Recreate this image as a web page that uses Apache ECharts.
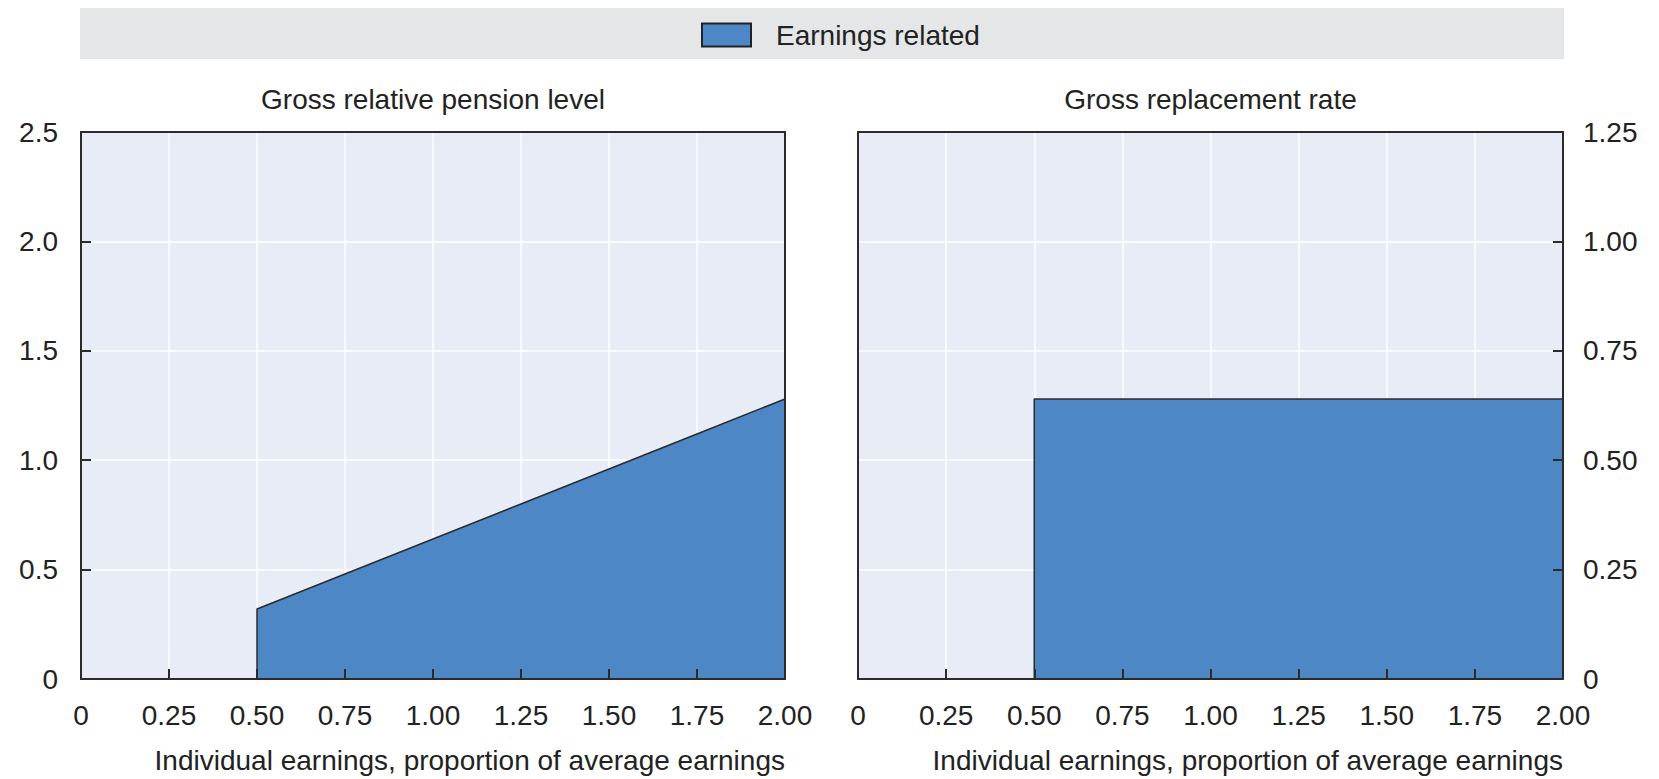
<!DOCTYPE html>
<html>
<head>
<meta charset="utf-8">
<script src="https://cdn.jsdelivr.net/npm/echarts@6/dist/echarts.min.js"></script>
<style>
html,body{margin:0;padding:0;background:#fff;}
#chart{width:1659px;height:779px;}
</style>
</head>
<body>
<div id="chart"></div>
<script>
// ---- data ----
const legendName = 'Earnings related';
const panelTitles = ['Gross relative pension level', 'Gross replacement rate'];
const xAxisTitle = 'Individual earnings, proportion of average earnings';
const earnings = [0, 0.25, 0.5, 0.5, 0.75, 1.0, 1.25, 1.5, 1.75, 2.0];
const relativeLevel = [0, 0, 0, 0.32, 0.48, 0.64, 0.80, 0.96, 1.12, 1.28];
const replacementRate = [0, 0, 0, 0.64, 0.64, 0.64, 0.64, 0.64, 0.64, 0.64];
const xTickLabels = ['0', '0.25', '0.50', '0.75', '1.00', '1.25', '1.50', '1.75', '2.00'];
const leftTickLabels = ['0', '0.5', '1.0', '1.5', '2.0', '2.5'];
const rightTickLabels = ['0', '0.25', '0.50', '0.75', '1.00', '1.25'];

// ---- styling ----
const FONT = '"Liberation Sans", Arial, sans-serif';
const FS = 28;
const TXT = '#222';
const BLUE = '#4D87C6';
const FRAME = '#2b2b2b';
const G0 = {left: 81, top: 132, width: 704, height: 547};
const G1 = {left: 858, top: 132, width: 705, height: 547};

function pairs(xs, ys) { return xs.map((x, i) => [x, ys[i]]); }
const lookup = (arr, step) => v => { const i = Math.round(v / step); return arr[i] !== undefined ? arr[i] : ''; };

const xRange = {type: 'value', min: 0, max: 2, interval: 0.25};
function gridXAxis(gi) {
  return Object.assign({}, xRange, {gridIndex: gi, position: 'bottom', z: 0,
    axisLine: {show: false}, axisTick: {show: false}, axisLabel: {show: false},
    splitLine: {show: true, lineStyle: {color: '#ffffff', width: 1.5}}});
}
function frameXAxis(gi, pos, labels) {
  return Object.assign({}, xRange, {gridIndex: gi, position: pos, z: 5,
    axisLine: {show: true, onZero: false, lineStyle: {color: FRAME, width: 2}},
    axisTick: {show: labels, inside: true, length: 10, lineStyle: {color: FRAME, width: 2}},
    axisLabel: {show: labels, margin: 22, fontSize: FS, fontFamily: FONT, color: TXT, formatter: lookup(xTickLabels, 0.25)},
    splitLine: {show: false}});
}
function gridYAxis(gi, max, interval) {
  return {type: 'value', gridIndex: gi, min: 0, max: max, interval: interval, position: 'left', z: 0,
    axisLine: {show: false}, axisTick: {show: false}, axisLabel: {show: false},
    splitLine: {show: true, lineStyle: {color: '#ffffff', width: 1.5}}};
}
function frameYAxis(gi, pos, max, interval, labels, tickLabels) {
  return {type: 'value', gridIndex: gi, min: 0, max: max, interval: interval, position: pos, z: 5,
    axisLine: {show: true, onZero: false, lineStyle: {color: FRAME, width: 2}},
    axisTick: {show: labels, inside: true, length: 10, lineStyle: {color: FRAME, width: 2}},
    axisLabel: {show: labels, margin: pos === 'left' ? 23 : 20, fontSize: FS, fontFamily: FONT, color: TXT,
      formatter: labels ? lookup(tickLabels, interval) : ''},
    splitLine: {show: false}};
}

const chart = echarts.init(document.getElementById('chart'), null, {renderer: 'svg'});
chart.setOption({
  animation: false,
  backgroundColor: '#ffffff',
  textStyle: {fontFamily: FONT},
  grid: [
    Object.assign({show: true, backgroundColor: '#E8ECF6', borderWidth: 0}, G0),
    Object.assign({show: true, backgroundColor: '#E8ECF6', borderWidth: 0}, G1)
  ],
  legend: {
    data: [legendName], left: 701, top: 21, padding: 0,
    itemWidth: 49, itemHeight: 23, icon: 'rect',
    itemStyle: {color: BLUE, borderColor: '#222', borderWidth: 2},
    textStyle: {fontSize: FS, fontFamily: FONT, color: TXT, padding: [0, 0, 4, 20]},
    selectedMode: false
  },
  xAxis: [
    gridXAxis(0), frameXAxis(0, 'bottom', true), frameXAxis(0, 'top', false),
    gridXAxis(1), frameXAxis(1, 'bottom', true), frameXAxis(1, 'top', false)
  ],
  yAxis: [
    gridYAxis(0, 2.5, 0.5), frameYAxis(0, 'left', 2.5, 0.5, true, leftTickLabels), frameYAxis(0, 'right', 2.5, 0.5, false),
    gridYAxis(1, 1.25, 0.25), frameYAxis(1, 'left', 1.25, 0.25, false), frameYAxis(1, 'right', 1.25, 0.25, true, rightTickLabels)
  ],
  graphic: [
    {type: 'rect', z: -10, shape: {x: 80, y: 8, width: 1484, height: 51}, style: {fill: '#E5E6E7'}},
    {type: 'text', x: G0.left + G0.width / 2, y: 99, style: {text: panelTitles[0], font: FS + 'px ' + FONT, fill: TXT, textAlign: 'center', textVerticalAlign: 'middle'}},
    {type: 'text', x: G1.left + G1.width / 2, y: 99, style: {text: panelTitles[1], font: FS + 'px ' + FONT, fill: TXT, textAlign: 'center', textVerticalAlign: 'middle'}},
    {type: 'text', x: G0.left + G0.width, y: 760, style: {text: xAxisTitle, font: FS + 'px ' + FONT, fill: TXT, textAlign: 'right', textVerticalAlign: 'middle'}},
    {type: 'text', x: G1.left + G1.width, y: 760, style: {text: xAxisTitle, font: FS + 'px ' + FONT, fill: TXT, textAlign: 'right', textVerticalAlign: 'middle'}}
  ],
  series: [
    {name: legendName, type: 'line', xAxisIndex: 0, yAxisIndex: 0, z: 2,
     data: pairs(earnings, relativeLevel), symbol: 'none',
     itemStyle: {color: BLUE}, lineStyle: {color: FRAME, width: 1.5},
     areaStyle: {color: BLUE, opacity: 1}},
    {name: legendName, type: 'line', xAxisIndex: 3, yAxisIndex: 3, z: 2,
     data: pairs(earnings, replacementRate), symbol: 'none',
     itemStyle: {color: BLUE}, lineStyle: {color: FRAME, width: 1.5},
     areaStyle: {color: BLUE, opacity: 1}}
  ]
});
</script>
</body>
</html>
